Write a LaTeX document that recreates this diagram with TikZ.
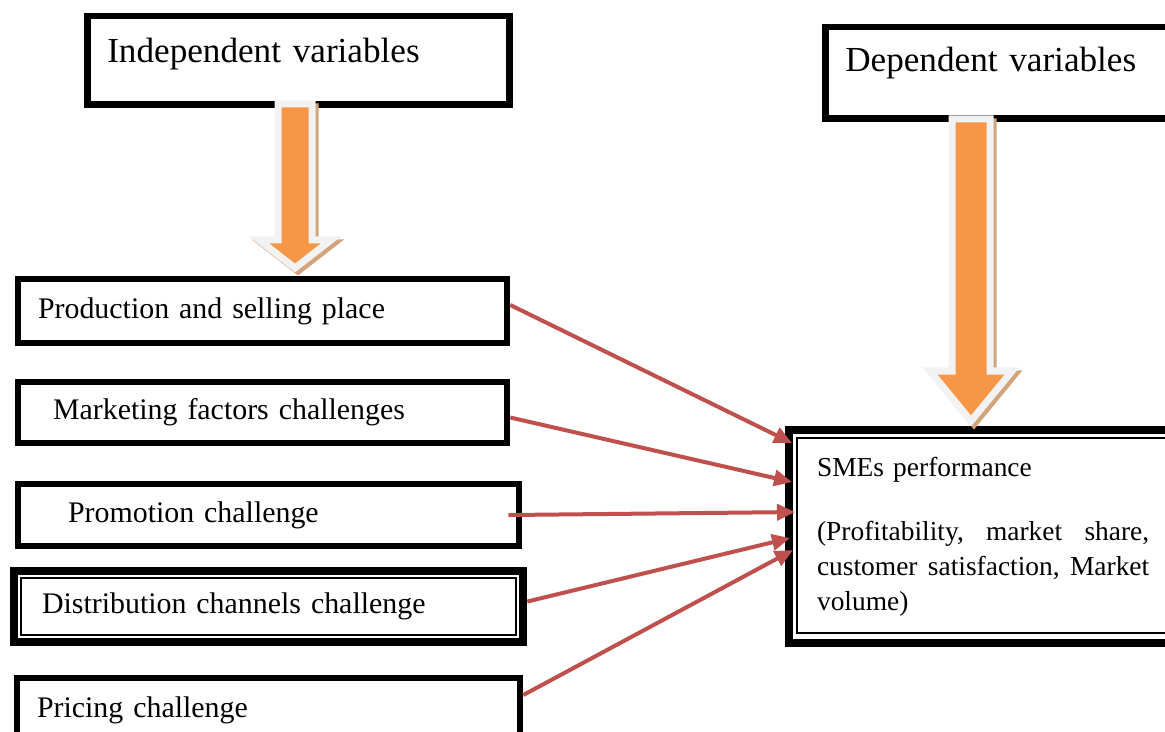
\documentclass[tikz,border=0pt]{standalone}
\usepackage{fontspec}
\setmainfont{Liberation Serif}
\usetikzlibrary{positioning,arrows.meta}
\definecolor{blockorange}{HTML}{F79646}
\definecolor{blockrim}{HTML}{F2F2F2}
\definecolor{blockshade}{HTML}{D2A47C}
\definecolor{linkred}{HTML}{C0504D}

\begin{document}
\begin{tikzpicture}
  [x=0.01cm, y=-0.01cm,
   headbox/.style={draw=black, line width=0.065cm, inner xsep=0.2cm, inner ysep=0pt, anchor=north west, font=\fontsize{10}{12}\selectfont},
   factor/.style={draw=black, line width=0.06cm, inner xsep=0.2cm, inner ysep=0pt, minimum height=0.64cm, anchor=north west, font=\fontsize{8.5}{10}\selectfont},
   link/.style={draw=linkred, line width=0.04cm, -{Triangle[length=0.18cm,width=0.16cm]}},
   blockarrow/.style={fill=blockorange, draw=blockrim, line width=0.07cm, line join=miter},
   blockshadow/.style={fill=blockshade, draw=blockshade, line width=0.07cm, line join=miter}]
 \useasboundingbox (0,0) rectangle (1165,731);
 % header boxes
 \node (indep) [headbox, text width=3.82cm, text height=0.46cm, text depth=0.42cm] at (84,13) {Independent variables};
 \node (dep) [headbox, text width=3.4cm, text height=0.445cm, text depth=0.465cm] at (822,24) {Dependent variables};
 % factors
 \node (p1) [factor, text width=4.49cm] at (15,276) {Production and selling place};
 \node (p2) [factor, text width=4.49cm, minimum height=0.61cm] at (15,379) {\hspace*{0.15cm}Marketing factors challenges};
 \node (p3) [factor, text width=4.61cm, minimum height=0.62cm] at (15,481) {\hspace*{0.3cm}Promotion challenge};
 \node (p4) [factor, line width=0.08cm, text width=4.69cm, minimum height=0.71cm] at (10,567) {\hspace*{0.08cm}Distribution channels challenge};
 \node (p5) [factor, text width=4.63cm] at (14,675) {Pricing challenge};
 \draw[line width=0.02cm] ([shift={(0.11cm,-0.11cm)}]p4.north west) rectangle ([shift={(-0.11cm,0.11cm)}]p4.south east);
 % performance
 \node (sme) [draw=black, line width=0.08cm, inner xsep=0.28cm, inner ysep=0pt, minimum height=2.13cm, text width=3.32cm, anchor=north west, font=\fontsize{7.8}{9.9}\selectfont] at (785,426)
   {SMEs performance\par\vspace{0.29cm}%
    \hbox to 3.32cm{(Profitability, \hfill market \hfill share,}%
    \hbox to 3.32cm{customer \hfill satisfaction, \hfill Market}%
    \hbox{volume)}};
 \draw[line width=0.02cm] ([shift={(0.12cm,-0.12cm)}]sme.north west) rectangle ([shift={(-0.12cm,0.14cm)}]sme.south east);
 % block arrows
 \draw[blockshadow] (281,107) -- (315,107) -- (315,243) -- (334,243) -- (298,271) -- (262,243) -- (281,243) -- cycle;
 \draw[blockarrow] (278,104) -- (312,104) -- (312,240) -- (331,240) -- (295,268) -- (259,240) -- (278,240) -- cycle;
 \draw[blockshadow] (955,122) -- (993,122) -- (993,374) -- (1015,374) -- (974,424) -- (933,374) -- (955,374) -- cycle;
 \draw[blockarrow] (952,119) -- (990,119) -- (990,371) -- (1012,371) -- (971,421) -- (930,371) -- (952,371) -- cycle;
 % links
 \draw[link] ([yshift=0.06cm]p1.east) -- ([shift={(0.07cm,-0.17cm)}]sme.north west);
 \draw[link] ([yshift=-0.05cm]p2.east) -- ([shift={(0.07cm,-0.56cm)}]sme.north west);
 \draw[link] ([xshift=-0.14cm]p3.east) -- ([shift={(0.10cm,-0.86cm)}]sme.north west);
 \draw[link] ([yshift=0.05cm]p4.east) -- ([shift={(0.05cm,-1.12cm)}]sme.north west);
 \draw[link] ([yshift=-0.2cm]p5.north east) -- ([shift={(0.08cm,-1.24cm)}]sme.north west);
\end{tikzpicture}
\end{document}
